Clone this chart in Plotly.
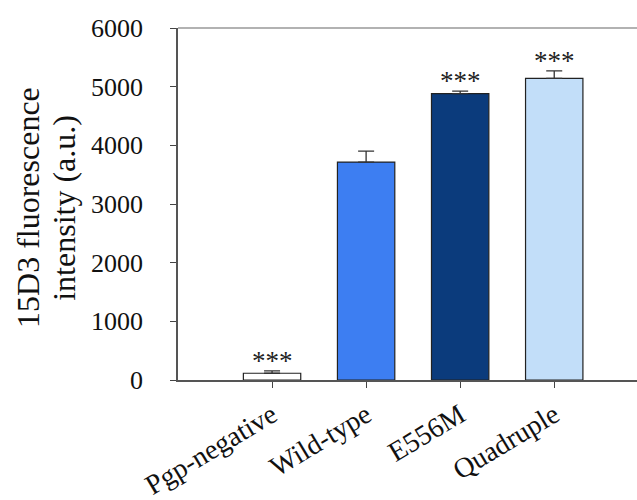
import plotly.graph_objects as go

# Flow-cytometry 15D3 binding per cell line
categories = ["Pgp-negative", "Wild-type", "E556M", "Quadruple"]
intensity = [115, 3715, 4880, 5140]
sem = [40, 185, 45, 130]
significance = ["***", "", "***", "***"]
bar_colors = ["#ffffff", "#3d7ef2", "#0b3b7c", "#c2def9"]
y_ticks = [0, 1000, 2000, 3000, 4000, 5000, 6000]

serif = "Liberation Serif, Times New Roman, serif"

fig = go.Figure()
fig.add_trace(go.Bar(
    x=list(range(len(categories))),
    y=intensity,
    width=0.61,
    marker=dict(color=bar_colors, line=dict(color="#222222", width=1.2)),
    error_y=dict(type="data", array=sem, symmetric=False, arrayminus=[0] * len(sem),
                 color="#333333", thickness=1.3, width=8),
    showlegend=False,
))

for i, (label, v, e) in enumerate(zip(significance, intensity, sem)):
    if label:
        fig.add_annotation(x=i, y=v + e, text=label, showarrow=False,
                           yanchor="bottom", yshift=-7,
                           font=dict(family=serif, size=27, color="#222222"))

# Two-line y-axis title
fig.add_annotation(xref="paper", yref="paper", x=-0.328, y=0.49, xanchor="center",
                   text="15D3 fluorescence", textangle=-90, showarrow=False,
                   font=dict(family=serif, size=32, color="#111111"))
fig.add_annotation(xref="paper", yref="paper", x=-0.25, y=0.49, xanchor="center",
                   text="intensity (a.u.)", textangle=-90, showarrow=False,
                   font=dict(family=serif, size=32, color="#111111"))

# Top frame line
fig.add_shape(type="line", xref="paper", yref="paper", x0=0, x1=1, y0=1, y1=1,
              line=dict(color="#999999", width=1.5))

fig.update_layout(
    width=637, height=500,
    margin=dict(l=178, r=0, t=28, b=120),
    paper_bgcolor="white", plot_bgcolor="white",
    xaxis=dict(
        range=[-1.0, 3.88], automargin=False,
        tickmode="array", tickvals=list(range(len(categories))), ticktext=categories,
        tickangle=-31, ticks="outside", ticklen=6, tickcolor="#444444",
        ticklabelstandoff=0,
        showline=True, linecolor="#555555", linewidth=1.5,
        showgrid=False, zeroline=False,
        tickfont=dict(family=serif, size=28, color="#111111"),
    ),
    yaxis=dict(
        range=[0, 6000], automargin=False,
        tickmode="array", tickvals=y_ticks, ticktext=[str(t) for t in y_ticks],
        ticks="outside", ticklen=6, tickcolor="#444444",
        ticklabelstandoff=22,
        showline=True, linecolor="#555555", linewidth=1.5,
        showgrid=False, zeroline=False,
        tickfont=dict(family=serif, size=26, color="#111111"),
    ),
)

fig.write_html("out.html")
